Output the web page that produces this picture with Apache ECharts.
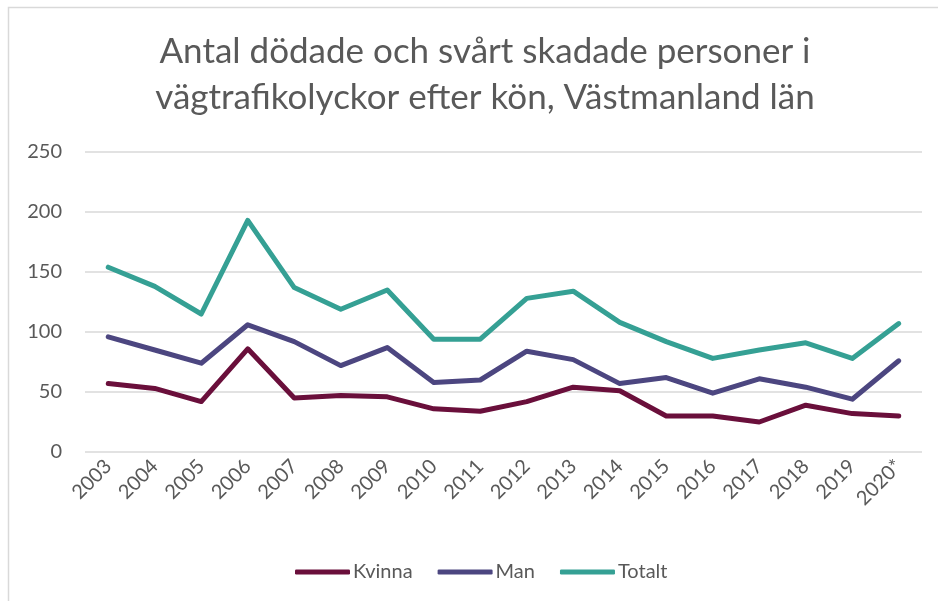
<!DOCTYPE html>
<html>
<head>
<meta charset="utf-8">
<script src="https://cdn.jsdelivr.net/npm/echarts@6/dist/echarts.min.js"></script>
<style>
  html, body { margin: 0; padding: 0; background: #fff; }
  #chart { width: 938px; height: 601px; }
</style>
</head>
<body>
<div id="chart"></div>
<script>
// data
const years = ['2003', '2004', '2005', '2006', '2007', '2008', '2009', '2010', '2011',
  '2012', '2013', '2014', '2015', '2016', '2017', '2018', '2019', '2020*'];
const kvinna = [57, 53, 42, 86, 45, 47, 46, 36, 34, 42, 54, 51, 30, 30, 25, 39, 32, 30];
const man = [96, 85, 74, 106, 92, 72, 87, 58, 60, 84, 77, 57, 62, 49, 61, 54, 44, 76];
const totalt = [154, 138, 115, 193, 137, 119, 135, 94, 94, 128, 134, 108, 92, 78, 85, 91, 78, 107];
const yTicks = [0, 50, 100, 150, 200, 250];

const textColor = '#595959';
const font = 'Lato';

const chart = echarts.init(document.getElementById('chart'));

const mkSeries = (name, data, color) => ({
  name: name,
  type: 'line',
  data: data,
  symbol: 'none',
  lineStyle: { width: 5, color: color, cap: 'round', join: 'round' },
  itemStyle: { color: color }
});

chart.setOption({
  animation: false,
  textStyle: { fontFamily: font },
  title: {
    text: 'Antal dödade och svårt skadade personer i\nvägtrafikolyckor efter kön, Västmanland län',
    left: 480,
    top: 24,
    textAlign: 'center',
    textStyle: {
      fontFamily: font,
      fontSize: 35,
      fontWeight: 'normal',
      color: textColor,
      lineHeight: 46
    }
  },
  graphic: [{
    type: 'rect',
    shape: { x: 8.5, y: 7.5, width: 960, height: 620 },
    style: { fill: 'none', stroke: '#d9d9d9', lineWidth: 1.5 },
    silent: true
  }],
  legend: {
    bottom: 14,
    left: 290,
    itemWidth: 55,
    itemHeight: 5,
    itemGap: 25,
    icon: 'roundRect',
    textStyle: { fontFamily: font, fontSize: 20, color: textColor, padding: [0, 0, 0, -2] },
    data: ['Kvinna', 'Man', 'Totalt']
  },
  grid: { left: 85, right: 16, top: 152, bottom: 149 },
  xAxis: {
    type: 'category',
    data: years,
    boundaryGap: true,
    axisLine: { show: false },
    axisTick: { show: false },
    axisLabel: {
      rotate: 45,
      interval: 0,
      margin: 11,
      fontFamily: font,
      fontSize: 20,
      color: textColor
    }
  },
  yAxis: {
    type: 'value',
    min: yTicks[0],
    max: yTicks[yTicks.length - 1],
    interval: 50,
    axisLine: { show: false },
    axisTick: { show: false },
    axisLabel: { margin: 23, fontFamily: font, fontSize: 20, color: textColor },
    splitLine: { lineStyle: { color: '#d9d9d9', width: 1.5 } }
  },
  series: [
    mkSeries('Kvinna', kvinna, '#6a0f3b'),
    mkSeries('Man', man, '#4c4680'),
    mkSeries('Totalt', totalt, '#35a094')
  ]
});
</script>
</body>
</html>
